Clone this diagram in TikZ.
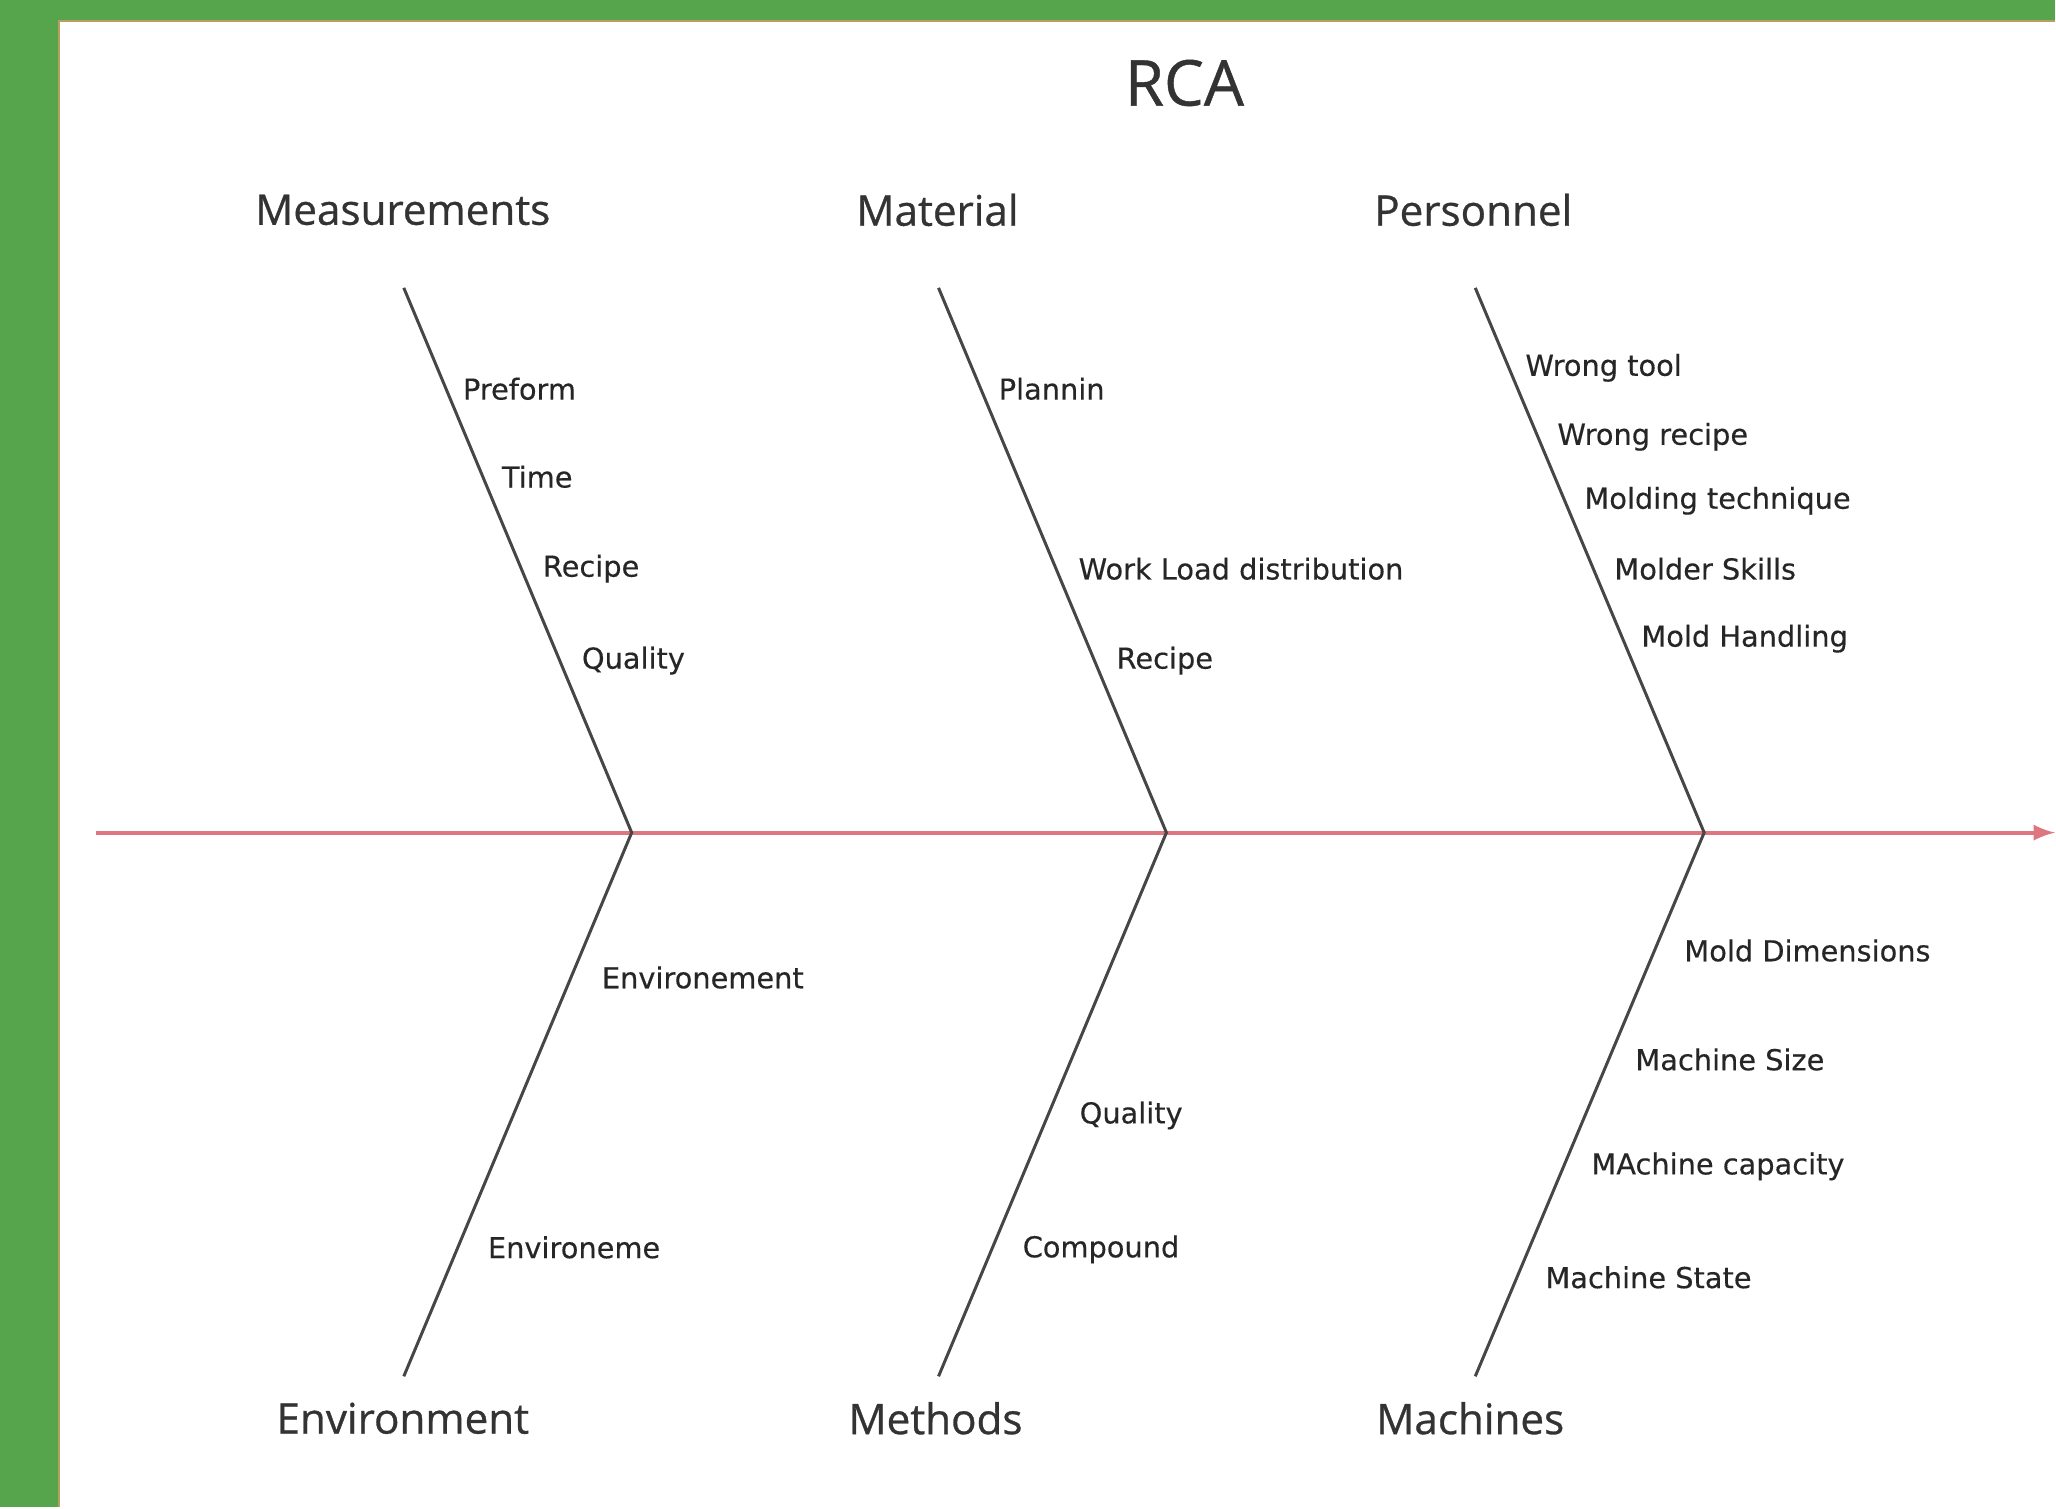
\documentclass[tikz,border=0pt]{standalone}
\usepackage{fontspec}
\setmainfont{Open Sans}
\newfontfamily\titlefont[FakeBold=0.7]{Open Sans}
\newfontfamily\causefont[FakeBold=0.3]{DejaVu Sans}
\definecolor{framegreen}{RGB}{86,165,76}
\definecolor{frameedge}{RGB}{186,160,96}
\definecolor{spinered}{RGB}{222,118,128}
\definecolor{bonegray}{RGB}{70,70,70}
\begin{document}
\begin{tikzpicture}[x=0.01cm,y=-0.01cm,>=latex,
  title/.style={font=\titlefont\fontsize{12}{14}\selectfont, text=black!80},
  cause/.style={font=\causefont\fontsize{8.2}{10}\selectfont, text=black!85, anchor=west, inner sep=1pt},
  bone/.style={bonegray, line width=0.85pt}]
% frame
\fill[framegreen](0,0)rectangle(2056,1508);
\fill[white](59,21)rectangle(2056,1508);
\draw[frameedge, line width=0.6pt](59,1508)--(59,21)--(2056,21);
\useasboundingbox(0,0)rectangle(2056,1508);
\node (rca) at (1185,83) [font=\titlefont\fontsize{18}{21}\selectfont, text=black!80]{RCA};
% spine
\coordinate (tail) at (96,833);
\coordinate (head) at (2056,833);
\coordinate (j1) at (632,833);
\coordinate (j2) at (1167,833);
\coordinate (j3) at (1705,833);
% bone ends
\coordinate (t1) at (404,288);
\coordinate (t2) at (939,288);
\coordinate (t3) at (1476,288);
\coordinate (b1) at (404,1377);
\coordinate (b2) at (939,1377);
\coordinate (b3) at (1476,1377);
\draw[spinered, line width=1.1pt, ->](tail)--(head);
\foreach \i in {1,2,3}
{
    \draw[bone](t\i)--(j\i)--(b\i);
}
% categories
\node[title] (meas) at (403,210){Measurements};
\node[title] (matl) at (938,210){Material};
\node[title] (pers) at (1474,210){Personnel};
\node[title] (envi) at (403,1419){Environment};
\node[title] (meth) at (936,1419){Methods};
\node[title] (mach) at (1471,1419){Machines};
% causes
\foreach \x/\y/\t [count=\i] in {459/389/Preform, 498/477/Time, 539/569/Recipe, 578/661/Quality,
    995/389/Plannin, 1075/569/Work Load distribution, 1113/661/Recipe,
    1522/368/Wrong tool, 1554/437/Wrong recipe, 1581/501/Molding technique,
    1611/569/Molder Skills, 1638/639/Mold Handling,
    598/978/Environement, 484/1248/Environeme,
    1076/1116/Quality, 1019/1250/Compound,
    1681/951/Mold Dimensions, 1632/1060/Machine Size, 1588/1167/MAchine capacity, 1542/1278/Machine State}
{
    \node[cause] (c\i) at (\x,\y){\t};
}
\end{tikzpicture}
\end{document}
